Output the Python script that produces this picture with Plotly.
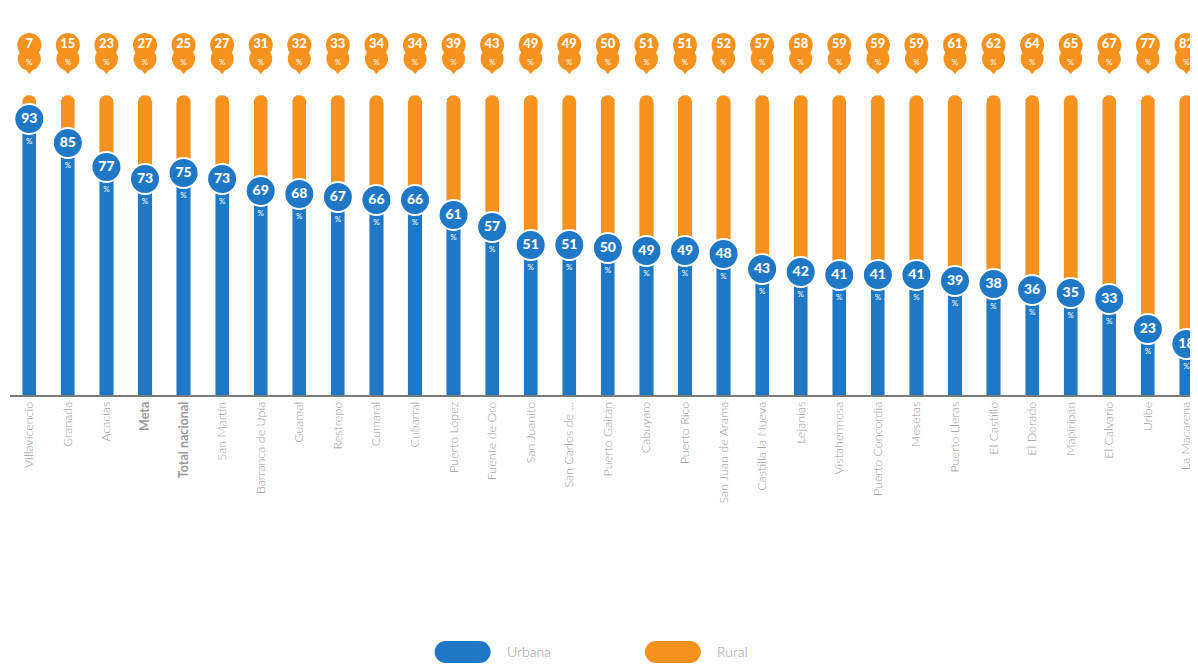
import plotly.graph_objects as go

categories = ["Villavicencio", "Granada", "Acacías", "Meta", "Total nacional", "San Martín",
              "Barranca de Upía", "Guamal", "Restrepo", "Cumaral", "Cubarral", "Puerto López",
              "Fuente de Oro", "San Juanito", "San Carlos de ...", "Puerto Gaitán", "Cabuyaro",
              "Puerto Rico", "San Juan de Arama", "Castilla la Nueva", "Lejanías", "Vistahermosa",
              "Puerto Concordia", "Mesetas", "Puerto Lleras", "El Castillo", "El Dorado",
              "Mapiripán", "El Calvario", "Uribe", "La Macarena"]
urbana = [93, 85, 77, 73, 75, 73, 69, 68, 67, 66, 66, 61, 57, 51, 51, 50, 49, 49, 48, 43, 42,
          41, 41, 41, 39, 38, 36, 35, 33, 23, 18]
rural = [7, 15, 23, 27, 25, 27, 31, 32, 33, 34, 34, 39, 43, 49, 49, 50, 51, 51, 52, 57, 58,
         59, 59, 59, 61, 62, 64, 65, 67, 77, 82]
bold_cats = ["Meta", "Total nacional"]

BLUE = "#1f78c6"
ORANGE = "#f7921e"
FONT = "Lato"

x = list(range(len(categories)))
n = len(x)
ticktext = [f"<b>{c}</b>" if c in bold_cats else c for c in categories]

fig = go.Figure()
fig.add_bar(x=x, y=urbana, marker_color=BLUE, width=0.37, name="Urbana", showlegend=False,
            hoverinfo="skip")
fig.add_bar(x=x, y=rural, marker_color=ORANGE, width=0.37, name="Rural", showlegend=False,
            hoverinfo="skip")

# Rural badges (elongated drops) above the bars
fig.add_scatter(x=x, y=[108.6] * n, mode="markers",
                marker=dict(symbol="triangle-down", size=10, color=ORANGE),
                showlegend=False, hoverinfo="skip")
fig.add_scatter(x=x, y=[112.0] * n, mode="markers",
                marker=dict(symbol="circle", size=23, color=ORANGE),
                showlegend=False, hoverinfo="skip")
fig.add_scatter(x=x, y=[116.7] * n, mode="markers+text", text=[str(v) for v in rural],
                textposition="middle center",
                textfont=dict(color="white", size=13, family=FONT + " Black, " + FONT),
                marker=dict(symbol="circle", size=24, color=ORANGE),
                showlegend=False, hoverinfo="skip")
fig.add_scatter(x=x, y=[110.7] * n, mode="text", text=["%"] * n,
                textposition="middle center",
                textfont=dict(color="white", size=8, family=FONT),
                showlegend=False, hoverinfo="skip")

# Urban badges
fig.add_scatter(x=x, y=[u - 1 for u in urbana], mode="markers+text",
                text=[str(v) for v in urbana], textposition="middle center",
                textfont=dict(color="white", size=14, family=FONT + " Black, " + FONT),
                marker=dict(symbol="circle", size=30, color=BLUE,
                            line=dict(color="white", width=2)),
                showlegend=False, hoverinfo="skip")
fig.add_scatter(x=x, y=[u - 8.5 for u in urbana], mode="text", text=["%"] * n,
                textposition="middle center",
                textfont=dict(color="white", size=8, family=FONT),
                showlegend=False, hoverinfo="skip")

# Custom legend (pill shapes)
LEG_Y = -0.664
for cx, col in [(0.381, BLUE), (0.558, ORANGE)]:
    fig.add_shape(type="rect", xref="paper", yref="paper", xsizemode="pixel", ysizemode="pixel",
                  xanchor=cx, yanchor=LEG_Y, x0=-17, x1=17, y0=-11, y1=11,
                  fillcolor=col, line=dict(width=0), layer="above")
    for dx in (-17, 17):
        fig.add_shape(type="circle", xref="paper", yref="paper", xsizemode="pixel",
                      ysizemode="pixel", xanchor=cx, yanchor=LEG_Y,
                      x0=dx - 11, x1=dx + 11, y0=-11, y1=11,
                      fillcolor=col, line=dict(width=0), layer="above")
fig.add_annotation(xref="paper", yref="paper", x=0.4167, y=LEG_Y, text="Urbana", showarrow=False,
                   xanchor="left", yanchor="middle",
                   font=dict(color="#9a9a9a", size=14, family=FONT, weight=300))
fig.add_annotation(xref="paper", yref="paper", x=0.5934, y=LEG_Y, text="Rural", showarrow=False,
                   xanchor="left", yanchor="middle",
                   font=dict(color="#9a9a9a", size=14, family=FONT, weight=300))

fig.update_layout(
    width=1190, height=657,
    margin=dict(l=2, r=0, t=0, b=270),
    barmode="stack",
    barcornerradius=7,
    plot_bgcolor="white", paper_bgcolor="white",
    font=dict(family=FONT, color="#9a9a9a"),
    xaxis=dict(tickmode="array", tickvals=x, ticktext=ticktext, tickangle=-90,
               range=[-0.5, 30.3], showgrid=False, zeroline=False,
               showline=True, linecolor="#7a7a7a", linewidth=1.5,
               tickfont=dict(size=12.5, color="#9a9a9a", family=FONT, weight=300), ticks=""),
    yaxis=dict(range=[0, 129], visible=False, showgrid=False, zeroline=False),
)

fig.write_html("out.html")
